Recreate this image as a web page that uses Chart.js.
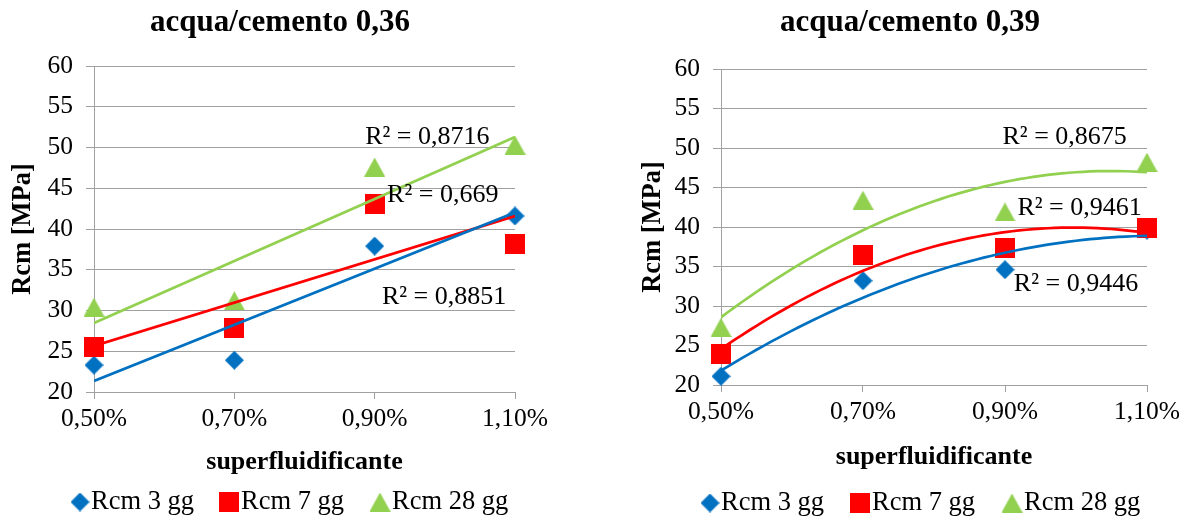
<!DOCTYPE html>
<html>
<head>
<meta charset="utf-8">
<script src="https://cdn.jsdelivr.net/npm/chart.js@4.4.1/dist/chart.umd.min.js"></script>
<style>
  html, body { margin: 0; padding: 0; background: #fff; }
  #wrap { position: relative; width: 1188px; height: 519px; }
  .box { position: absolute; top: 0; width: 594px; height: 519px; }
  #boxA { left: 0; }
  #boxB { left: 594px; }
</style>
</head>
<body>
<div id="wrap">
  <div class="box" id="boxA"><canvas id="chartA" width="594" height="519"></canvas></div>
  <div class="box" id="boxB"><canvas id="chartB" width="594" height="519"></canvas></div>
</div>
<script>
// DATI

// dosaggio di superfluidificante (%)
const dosi = [0.5, 0.7, 0.9, 1.1];
const serie = ["Rcm 3 gg", "Rcm 7 gg", "Rcm 28 gg"];
const yTicks = [20, 25, 30, 35, 40, 45, 50, 55, 60];

// a/c 0,36
const rcm3_036 = [23.3, 23.9, 37.9, 41.6];
const rcm7_036 = [25.5, 27.8, 43.1, 38.1];
const rcm28_036 = [30.4, 31.2, 47.6, 50.3];
const r2_036 = ["0,8851", "0,669", "0,8716"];

// a/c 0,39
const rcm3_039 = [21.1, 33.2, 34.6, 39.6];
const rcm7_039 = [23.9, 36.4, 37.4, 39.9];
const rcm28_039 = [27.3, 43.4, 41.9, 48.2];
const r2_039 = ["0,9446", "0,9461", "0,8675"];

const colori = ["#0070C0", "#FF0000", "#92D050"];
const FONT = '"Liberation Serif", "Times New Roman", serif';

// MARCATORI (rombo, quadrato, triangolo)

function marcatore(forma, colore) {
  const c = document.createElement("canvas");
  const w = forma === "quadrato" ? 20 : forma === "rombo" ? 19 : 21;
  const h = forma === "quadrato" ? 20 : 19;
  c.width = w;
  c.height = h;
  const g = c.getContext("2d");
  g.fillStyle = colore;
  g.beginPath();
  if (forma === "rombo") {
    g.moveTo(w / 2, 0); g.lineTo(w, h / 2); g.lineTo(w / 2, h); g.lineTo(0, h / 2);
  } else if (forma === "quadrato") {
    g.rect(0, 0, w, h);
  } else {
    g.moveTo(w / 2, 0); g.lineTo(w, h); g.lineTo(0, h);
  }
  g.closePath();
  g.fill();
  return c;
}
const marcatori = [
  marcatore("rombo", colori[0]),
  marcatore("quadrato", colori[1]),
  marcatore("triangolo", colori[2]),
];

// LINEA DI TENDENZA (minimi quadrati, grado 1 o 2)

function polyFit(xs, ys, grado) {
  const n = grado + 1;
  const A = [];
  for (let r = 0; r < n; r++) {
    const riga = [];
    for (let c = 0; c < n; c++) {
      riga.push(xs.reduce((s, x) => s + Math.pow(x, r + c), 0));
    }
    riga.push(xs.reduce((s, x, i) => s + Math.pow(x, r) * ys[i], 0));
    A.push(riga);
  }
  for (let p = 0; p < n; p++) {
    for (let r = p + 1; r < n; r++) {
      const f = A[r][p] / A[p][p];
      for (let c = p; c <= n; c++) A[r][c] -= f * A[p][c];
    }
  }
  const coef = new Array(n).fill(0);
  for (let r = n - 1; r >= 0; r--) {
    let s = A[r][n];
    for (let c = r + 1; c < n; c++) s -= A[r][c] * coef[c];
    coef[r] = s / A[r][r];
  }
  return (x) => coef.reduce((s, k, i) => s + k * Math.pow(x, i), 0);
}

function tendenza(ys, grado) {
  const f = polyFit(dosi, ys, grado);
  const x0 = dosi[0];
  const x1 = dosi[dosi.length - 1];
  const passi = grado === 1 ? 1 : 60;
  const punti = [];
  for (let i = 0; i <= passi; i++) {
    const x = x0 + ((x1 - x0) * i) / passi;
    punti.push({ x: x, y: f(x) });
  }
  return punti;
}

function creaDatasets(valori, grado) {
  const ds = [];
  valori.forEach((ys, i) => {
    ds.push({
      label: "tendenza " + serie[i],
      data: tendenza(ys, grado),
      showLine: true,
      borderColor: colori[i],
      borderWidth: 2.7,
      pointRadius: 0,
      order: 0,
    });
  });
  valori.forEach((ys, i) => {
    ds.push({
      label: serie[i],
      data: dosi.map((x, k) => ({ x: x, y: ys[k] })),
      pointStyle: marcatori[i],
      pointRadius: 10,
      showLine: false,
      clip: false,
      order: 3 - i,
    });
  });
  return ds;
}

// TESTI: titolo, etichette R², legenda

const testiGrafico = {
  id: "testiGrafico",
  afterDraw(chart, args, o) {
    const ctx = chart.ctx;
    const sx = chart.scales.x;
    const sy = chart.scales.y;
    ctx.save();
    ctx.fillStyle = "#000";
    ctx.textBaseline = "middle";

    ctx.font = "bold 31px " + FONT;
    ctx.textAlign = "center";
    ctx.fillText(o.titolo, o.titoloX, 23);

    ctx.font = "26px " + FONT;
    o.r2.forEach((t, i) => {
      ctx.fillText(
        "R² = " + t,
        sx.getPixelForValue(o.r2Pos[i][0]),
        sy.getPixelForValue(o.r2Pos[i][1])
      );
    });

    ctx.font = "26.5px " + FONT;
    ctx.textAlign = "left";
    serie.forEach((nome, i) => {
      const m = marcatori[i];
      ctx.drawImage(m, o.legMarc[i] - m.width / 2, o.legY - m.height / 2);
      ctx.fillText(nome, o.legTesto[i], o.legY);
    });
    ctx.restore();
  },
};

function creaScale(yLarg, yTitPad, xAlt, xTitPad, xTickPad) {
  return {
    x: {
      type: "linear",
      min: dosi[0],
      max: dosi[dosi.length - 1],
      afterBuildTicks: (s) => { s.ticks = dosi.map((v) => ({ value: v })); },
      afterFit: (s) => { s.height = xAlt; },
      grid: { display: true, drawOnChartArea: false, drawTicks: true, tickLength: 7, color: "#A0A0A0" },
      border: { display: true, color: "#A0A0A0", width: 1 },
      ticks: {
        padding: xTickPad,
        color: "#000",
        font: { family: FONT, size: 25.5 },
        callback: (v) => v.toFixed(2).replace(".", ",") + "%",
      },
      title: {
        display: true,
        text: "superfluidificante",
        color: "#000",
        font: { family: FONT, size: 26, weight: "bold" },
        padding: { top: 0, bottom: xTitPad },
      },
    },
    y: {
      min: 20,
      max: 60,
      afterBuildTicks: (s) => { s.ticks = yTicks.map((v) => ({ value: v })); },
      afterFit: (s) => { s.width = yLarg; },
      grid: { color: "#A0A0A0", lineWidth: 1, tickLength: 8 },
      border: { display: true, color: "#A0A0A0", width: 1 },
      ticks: {
        padding: 13,
        color: "#000",
        font: { family: FONT, size: 25.5 },
      },
      title: {
        display: true,
        text: "Rcm [MPa]",
        color: "#000",
        font: { family: FONT, size: 26.5, weight: "bold" },
        padding: { top: yTitPad, bottom: 0 },
      },
    },
  };
}

// GRAFICO a/c 0,36 (tendenza lineare)

new Chart(document.getElementById("chartA"), {
  type: "scatter",
  data: { datasets: creaDatasets([rcm3_036, rcm7_036, rcm28_036], 1) },
  options: {
    responsive: false,
    animation: false,
    events: [],
    layout: { padding: { left: 0, right: 79, top: 66, bottom: 40 } },
    scales: creaScale(94, 7, 87, 1, 5),
    plugins: {
      legend: { display: false },
      tooltip: { enabled: false },
      testiGrafico: {
        titolo: "acqua/cemento 0,36",
        titoloX: 280,
        r2: r2_036,
        r2Pos: [[0.999, 31.6], [0.997, 44.2], [0.975, 51.3]],
        legMarc: [80, 229, 380],
        legTesto: [91, 241, 392],
        legY: 502,
      },
    },
  },
  plugins: [testiGrafico],
});

// GRAFICO a/c 0,39 (tendenza polinomiale di 2° grado)

new Chart(document.getElementById("chartB"), {
  type: "scatter",
  data: { datasets: creaDatasets([rcm3_039, rcm7_039, rcm28_039], 2) },
  options: {
    responsive: false,
    animation: false,
    events: [],
    layout: { padding: { left: 0, right: 41, top: 69, bottom: 40 } },
    scales: creaScale(127, 43, 94, 6, 5),
    plugins: {
      legend: { display: false },
      tooltip: { enabled: false },
      testiGrafico: {
        titolo: "acqua/cemento 0,39",
        titoloX: 316,
        r2: r2_039,
        r2Pos: [[1.0, 32.7], [1.005, 42.4], [0.984, 51.4]],
        legMarc: [116, 266, 418],
        legTesto: [127, 278, 430],
        legY: 503,
      },
    },
  },
  plugins: [testiGrafico],
});
</script>
</body>
</html>
